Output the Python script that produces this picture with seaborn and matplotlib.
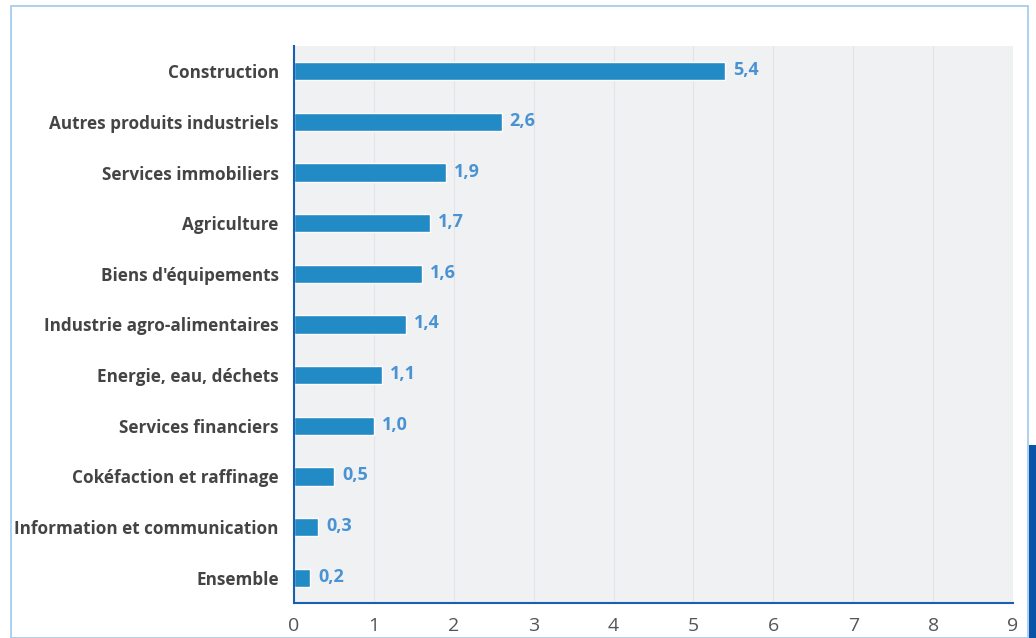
import matplotlib
matplotlib.use("Agg")
import matplotlib.pyplot as plt
import matplotlib.patches as mpatches
import pandas as pd
import seaborn as sns

categories = [
    "Construction",
    "Autres produits industriels",
    "Services immobiliers",
    "Agriculture",
    "Biens d'équipements",
    "Industrie agro-alimentaires",
    "Energie, eau, déchets",
    "Services financiers",
    "Cokéfaction et raffinage",
    "Information et communication",
    "Ensemble",
]
values = [5.4, 2.6, 1.9, 1.7, 1.6, 1.4, 1.1, 1.0, 0.5, 0.3, 0.2]
x_ticks = list(range(0, 10))

BAR = "#228ac4"
LABEL = "#4a93d3"
SPINE = "#1a5fb0"
TEXT = "#444444"

sns.set_style("white")
plt.rcParams["font.family"] = ["Open Sans", "DejaVu Sans"]

df = pd.DataFrame({"category": categories, "value": values})

fig = plt.figure(figsize=(10.36, 6.38), dpi=100)
ax = fig.add_axes([294 / 1036, 1 - 603 / 638, (1013 - 294) / 1036, (603 - 46) / 638])

sns.barplot(data=df, x="value", y="category", color=BAR, width=0.36,
            saturation=1, ax=ax)

ax.set_facecolor("#f0f1f3")
ax.set_xlim(0, 9)
ax.set_ylim(len(categories) - 0.5, -0.5)
ax.set_xticks(x_ticks)
ax.set_xticklabels([str(t) for t in x_ticks], fontsize=14, color="#555555")
ax.set_yticks(range(len(categories)))
ax.set_yticklabels(categories, fontsize=12.3, fontweight="bold", color=TEXT)
ax.set_xlabel("")
ax.set_ylabel("")

# separators between categories on the left axis
ax.set_yticks([i + 0.5 for i in range(len(categories) - 1)], minor=True)
ax.tick_params(axis="y", which="major", length=0, pad=11)
ax.tick_params(axis="y", which="minor", length=4, color="#999999", width=0.8, direction="out")
ax.tick_params(axis="x", which="major", length=5, color="#999999", width=0.8, pad=5)

ax.grid(axis="x", color="#e2e4e8", linewidth=0.8)
ax.set_axisbelow(True)

for s in ["top", "right"]:
    ax.spines[s].set_visible(False)
for s in ["left", "bottom"]:
    ax.spines[s].set_color(SPINE)
    ax.spines[s].set_linewidth(1.5)

for i, v in enumerate(values):
    ax.text(v + 0.1, i - 0.02, f"{v:.1f}".replace(".", ","), va="center", ha="left",
            fontsize=13, fontweight="bold", color=LABEL)

# outer frame and the dark tab on the right edge
fig.patches.append(mpatches.Rectangle((11 / 1036, 0), (1028 - 11) / 1036, 1 - 6 / 638,
                                      transform=fig.transFigure, fill=False,
                                      edgecolor="#9ccaee", linewidth=1.2))
fig.patches.append(mpatches.Rectangle((1029 / 1036, 0), 7 / 1036, 1 - 445 / 638,
                                      transform=fig.transFigure, facecolor="#0a53a6",
                                      edgecolor="none"))

fig.savefig("out.png", dpi=100)
